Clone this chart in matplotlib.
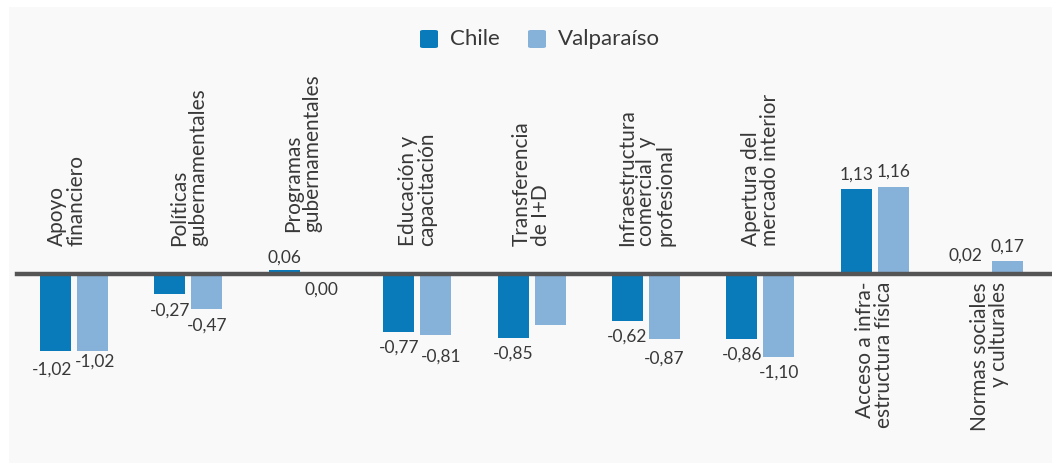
import numpy as np
import matplotlib.pyplot as plt
from matplotlib.patches import Rectangle, FancyBboxPatch

plt.rcParams['font.family'] = ['Lato', 'DejaVu Sans']

categorias = ["Apoyo\nfinanciero",
              "Políticas\ngubernamentales",
              "Programas\ngubernamentales",
              "Educación y\ncapacitación",
              "Transferencia\nde I+D",
              "Infraestructura\ncomercial  y\nprofesional",
              "Apertura del\nmercado interior",
              "Acceso a infra-\nestructura física",
              "Normas sociales\ny culturales"]
chile = [-1.02, -0.27, 0.06, -0.77, -0.85, -0.62, -0.86, 1.13, 0.02]
valparaiso = [-1.02, -0.47, 0.00, -0.81, -0.68, -0.87, -1.10, 1.16, 0.17]
etiquetas_chile = ["-1,02", "-0,27", "0,06", "-0,77", "-0,85", "-0,62", "-0,86", "1,13", "0,02"]
etiquetas_valp = ["-1,02", "-0,47", "0,00", "-0,81", None, "-0,87", "-1,10", "1,16", "0,17"]

AZUL = '#0a7bba'
CELESTE = '#86b1d8'
TEXTO = '#383838'
FONDO = '#f9f9f9'

W, H = 1052, 463
fig = plt.figure(figsize=(W / 100, H / 100), dpi=100, facecolor='white')
fig.patches.append(Rectangle((9 / W, 0), 1 - 9 / W, 1 - 7 / H, transform=fig.transFigure,
                             facecolor=FONDO, edgecolor='none', zorder=-5))

ax = fig.add_axes([0, 0, 1, 1])
ax.set_facecolor('none')
for s in ax.spines.values():
    s.set_visible(False)
ax.set_xticks([])
ax.set_yticks([])

# pixel geometry: group spacing 114.4 px, 75 px per unit, baseline at y=274
px_x = 114.4
px_y = 75.0
x0 = 74
y0 = 274
ax.set_xlim((0 - x0) / px_x, (W - x0) / px_x)
ax.set_ylim((y0 - H) / px_y, y0 / px_y)

x = np.arange(len(categorias))
ancho = 31 / px_x
sep = 37 / px_x / 2

ax.bar(x - sep, chile, ancho, color=AZUL, zorder=2)
ax.bar(x + sep, valparaiso, ancho, color=CELESTE, zorder=2)
ax.axhline(0, xmin=17 / W, xmax=1, color='#555555', lw=3.2, zorder=3)

def etiqueta(xp, v, txt, dx=0, dy=0):
    if txt is None:
        return
    off = 15 if v > 0 else -16
    ax.annotate(txt, (xp, v), xytext=(dx, off + dy), textcoords='offset pixels',
                ha='center', va='center', fontsize=12.5, color=TEXTO, zorder=4)

ajustes_chile = {0: (-3, -3), 2: (0, -3), 8: (-5, 2)}
ajustes_valp = {0: (3, 5), 3: (5, -6), 5: (0, -3)}
for i in range(len(categorias)):
    dx, dy = ajustes_chile.get(i, (0, 0))
    etiqueta(x[i] - sep, chile[i], etiquetas_chile[i], dx, dy)
    dx, dy = ajustes_valp.get(i, (0, 0))
    etiqueta(x[i] + sep, valparaiso[i], etiquetas_valp[i], dx, dy)

# category names, rotated; above the axis for negative groups, below for positive
for i, nombre in enumerate(categorias):
    if i >= 7:
        ax.text(x[i], (y0 - 282) / px_y, nombre, rotation=90, ha='center', va='top',
                multialignment='right', fontsize=15, color=TEXTO, linespacing=0.95)
    else:
        base = 232 if i == 2 else 246
        dxl = -7 / px_x if i == 0 else 0
        ax.text(x[i] + dxl, (y0 - base) / px_y, nombre, rotation=90, ha='center', va='bottom',
                multialignment='left', fontsize=15, color=TEXTO, linespacing=0.95)

# legend
for xs, txt, col in [(420, "Chile", AZUL), (528, "Valparaíso", CELESTE)]:
    fig.patches.append(FancyBboxPatch((xs / W, (H - 48) / H), 18 / W, 18 / H,
                                      boxstyle='round,pad=0,rounding_size=0.003',
                                      transform=fig.transFigure, facecolor=col,
                                      edgecolor='none', zorder=5))
    fig.text((xs + 30) / W, (H - 39) / H, txt, ha='left', va='center',
             fontsize=16, color=TEXTO)

fig.savefig('out.png', dpi=100, facecolor='white')
